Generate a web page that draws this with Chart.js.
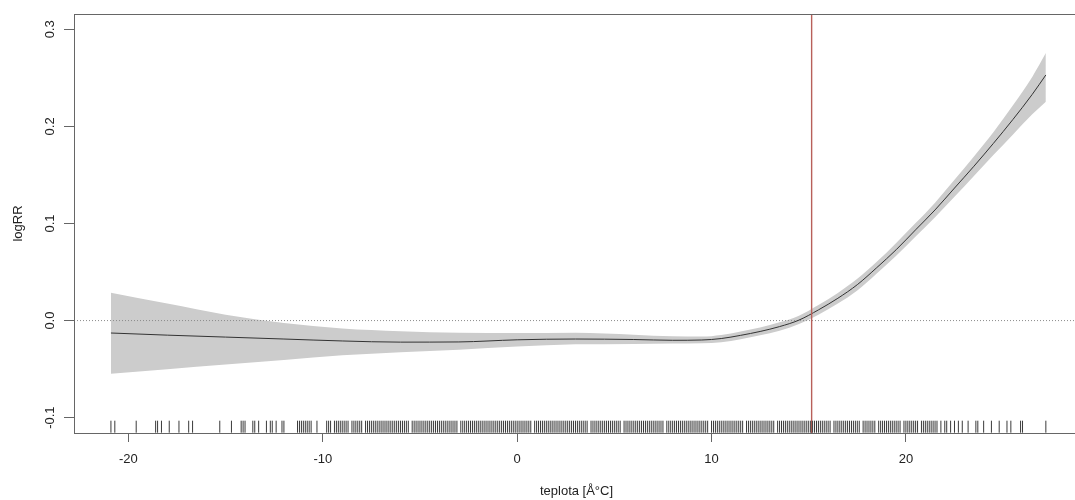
<!DOCTYPE html>
<html>
<head>
<meta charset="utf-8">
<script src="https://cdn.jsdelivr.net/npm/chart.js@4"></script>
<style>
  html, body { margin: 0; padding: 0; background: #fff; }
  canvas { display: block; }
</style>
</head>
<body>
<canvas id="rrChart" width="1075" height="500"></canvas>
<script>
// exposure-response curve (temperature vs logRR)
const temps = [-20.9, -18, -15, -12, -9, -6, -3, 0, 3, 6, 8, 9.5, 10.5, 11.5, 12.5, 13.5, 14.5, 15.5, 16.5, 17.5, 18.5, 19.5, 20.5, 21.5, 22.5, 23.5, 24.5, 25.5, 26.5, 27.2];
const fitRR = [-0.0128, -0.015, -0.017, -0.019, -0.021, -0.0222, -0.022, -0.0198, -0.019, -0.0195, -0.0203, -0.020, -0.0185, -0.0152, -0.0112, -0.0062, 0.0005, 0.011, 0.023, 0.037, 0.0545, 0.073, 0.0935, 0.114, 0.1365, 0.159, 0.1825, 0.207, 0.233, 0.253];
const upperRR = [0.0287, 0.0175, 0.006, -0.0025, -0.0082, -0.011, -0.0125, -0.0128, -0.0125, -0.0145, -0.0162, -0.0165, -0.0148, -0.0112, -0.0072, -0.0018, 0.005, 0.016, 0.0285, 0.043, 0.0605, 0.080, 0.1005, 0.1215, 0.145, 0.169, 0.194, 0.2215, 0.251, 0.2755];
const lowerRR = [-0.0547, -0.0501, -0.0453, -0.0406, -0.0358, -0.0325, -0.030, -0.0268, -0.0245, -0.024, -0.0235, -0.0233, -0.0222, -0.0192, -0.0152, -0.0104, -0.0035, 0.006, 0.0175, 0.031, 0.0485, 0.0668, 0.0865, 0.1065, 0.1275, 0.149, 0.1705, 0.1915, 0.2125, 0.2255];

// observed temperatures (rug)
const rugTemps = [
  -20.9, -20.7, -19.6, -18.6, -18.5, -18.3, -17.9, -17.4, -16.9, -16.7, -15.3, -14.7, -14.2, -14.1, -14.0,
  -13.6, -13.5, -13.3, -12.9, -12.7, -12.6, -12.4, -12.1, -12.0, -11.3, -11.2, -11.1, -11.0, -10.9, -10.8,
  -10.7, -10.6, -10.3,
  -9.8, -9.7, -9.6, -9.4, -9.3, -9.2, -9.1, -9.0,
  -8.9, -8.8, -8.7, -8.5, -8.4, -8.3, -8.2, -8.1, -8.0,
  -7.8, -7.7, -7.6, -7.5, -7.4, -7.3, -7.2, -7.1, -7.0,
  -6.9, -6.8, -6.7, -6.6, -6.5, -6.4, -6.3, -6.2, -6.1, -6.0,
  -5.9, -5.8, -5.7, -5.6, -5.4, -5.3, -5.2, -5.1, -5.0,
  -4.9, -4.8, -4.7, -4.6, -4.5, -4.4, -4.3, -4.2, -4.1, -4.0,
  -3.9, -3.8, -3.7, -3.6, -3.5, -3.4, -3.3, -3.2, -3.1,
  -2.9, -2.8, -2.7, -2.6, -2.5, -2.4, -2.3, -2.2, -2.1, -2.0,
  -1.9, -1.8, -1.7, -1.6, -1.5, -1.4, -1.3, -1.2, -1.1, -1.0,
  -0.9, -0.8, -0.7, -0.6, -0.5, -0.4, -0.3, -0.2, -0.1, 0.0,
  0.1, 0.2, 0.3, 0.4, 0.5, 0.6, 0.7, 0.9, 1.0,
  1.1, 1.2, 1.3, 1.4, 1.5, 1.6, 1.7, 1.8, 1.9, 2.0,
  2.1, 2.2, 2.3, 2.4, 2.5, 2.6, 2.7, 2.8, 2.9, 3.0,
  3.1, 3.2, 3.3, 3.4, 3.5, 3.6, 3.8, 3.9, 4.0,
  4.1, 4.2, 4.3, 4.4, 4.5, 4.6, 4.7, 4.8, 4.9, 5.0,
  5.1, 5.2, 5.3, 5.5, 5.6, 5.7, 5.8, 5.9, 6.0,
  6.1, 6.2, 6.3, 6.4, 6.5, 6.6, 6.7, 6.8, 6.9, 7.0,
  7.1, 7.2, 7.3, 7.4, 7.5, 7.7, 7.8, 7.9, 8.0,
  8.1, 8.2, 8.3, 8.4, 8.5, 8.6, 8.7, 8.8, 8.9, 9.0,
  9.1, 9.2, 9.3, 9.4, 9.5, 9.6, 9.7, 9.8, 10.0,
  10.1, 10.2, 10.3, 10.4, 10.5, 10.6, 10.7, 10.8, 10.9, 11.0,
  11.1, 11.2, 11.3, 11.4, 11.5, 11.6, 11.8, 11.9, 12.0,
  12.1, 12.2, 12.3, 12.4, 12.5, 12.6, 12.7, 12.8, 12.9, 13.0,
  13.1, 13.2, 13.4, 13.5, 13.6, 13.7, 13.8, 13.9, 14.0,
  14.1, 14.2, 14.3, 14.4, 14.5, 14.6, 14.7, 14.8, 14.9, 15.0,
  15.1, 15.2, 15.3, 15.4, 15.5, 15.6, 15.7, 15.8, 15.9, 16.0,
  16.1, 16.3, 16.4, 16.5, 16.6, 16.7, 16.8, 16.9, 17.0,
  17.1, 17.2, 17.3, 17.4, 17.5, 17.6, 17.8, 17.9, 18.0,
  18.1, 18.2, 18.3, 18.4, 18.6, 18.7, 18.8, 18.9, 19.0,
  19.1, 19.2, 19.3, 19.4, 19.5, 19.6, 19.7, 19.9, 20.0,
  20.1, 20.2, 20.3, 20.4, 20.5, 20.6, 20.8, 20.9, 21.0,
  21.1, 21.2, 21.3, 21.4, 21.5, 21.6,
  21.8, 22.0, 22.1, 22.3, 22.5, 22.7, 22.9, 23.2, 23.6, 23.7, 24.0, 24.4, 24.8, 25.2, 25.4, 25.9, 26.0, 27.2
];

const refTemp = 15.15;
const xTicks = [-20, -10, 0, 10, 20];
const yTicks = [-0.1, 0, 0.1, 0.2, 0.3];
const yTickLabels = ['-0.1', '0.0', '0.1', '0.2', '0.3'];
const xRange = [-22.8, 28.7];
const yRange = [-0.1158, 0.3158];
const rugY = -0.1093;

const FONT = '"Liberation Sans", Arial, sans-serif';
const toPoints = vals => temps.map((t, i) => ({ x: t, y: vals[i] }));

// box around the plot, rotated y labels and the axis titles (R look)
const rStyle = {
    id: 'rStyle',
    afterDraw(chart) {
        const { ctx, chartArea: a, scales: { y } } = chart;
        ctx.save();
        ctx.strokeStyle = '#666';
        ctx.lineWidth = 1;
        ctx.strokeRect(a.left + 0.5, a.top + 0.5, a.right - a.left, a.bottom - a.top);

        ctx.fillStyle = '#222';
        ctx.font = '13px ' + FONT;
        ctx.textAlign = 'center';
        ctx.textBaseline = 'middle';
        yTicks.forEach((v, i) => {
            ctx.save();
            ctx.translate(50, y.getPixelForValue(v));
            ctx.rotate(-Math.PI / 2);
            ctx.fillText(yTickLabels[i], 0, 0);
            ctx.restore();
        });

        ctx.save();
        ctx.translate(18, (a.top + a.bottom) / 2);
        ctx.rotate(-Math.PI / 2);
        ctx.fillText('logRR', 0, 0);
        ctx.restore();

        ctx.fillText('teplota [Å°C]', (a.left + a.right) / 2 + 2, 491);
        ctx.restore();
    }
};

new Chart(document.getElementById('rrChart').getContext('2d'), {
    type: 'line',
    data: {
        datasets: [
            {
                type: 'scatter',
                data: rugTemps.map(t => ({ x: t, y: rugY })),
                pointStyle: 'line',
                pointRotation: 90,
                pointRadius: 6,
                pointHoverRadius: 6,
                pointBorderColor: '#3a3a3a',
                pointBorderWidth: 1,
                order: 1
            },
            {
                data: [{ x: refTemp, y: yRange[0] }, { x: refTemp, y: yRange[1] }],
                borderColor: '#b8605a',
                borderWidth: 1.4,
                pointRadius: 0,
                order: 2
            },
            {
                data: toPoints(fitRR),
                borderColor: '#333',
                borderWidth: 1,
                pointRadius: 0,
                cubicInterpolationMode: 'monotone',
                order: 3
            },
            {
                data: [{ x: xRange[0], y: 0 }, { x: xRange[1], y: 0 }],
                borderColor: '#8a8a8a',
                borderWidth: 1,
                borderDash: [1, 2],
                pointRadius: 0,
                order: 4
            },
            {
                data: toPoints(upperRR),
                borderWidth: 0,
                borderColor: 'rgba(0,0,0,0)',
                backgroundColor: '#cccccc',
                fill: '+1',
                pointRadius: 0,
                cubicInterpolationMode: 'monotone',
                order: 10
            },
            {
                data: toPoints(lowerRR),
                borderWidth: 0,
                borderColor: 'rgba(0,0,0,0)',
                pointRadius: 0,
                cubicInterpolationMode: 'monotone',
                order: 11
            }
        ]
    },
    options: {
        responsive: false,
        animation: false,
        events: [],
        layout: { autoPadding: false, padding: { top: 14, right: 0, bottom: 0, left: 0 } },
        plugins: { legend: { display: false }, tooltip: { enabled: false } },
        scales: {
            x: {
                type: 'linear',
                min: xRange[0],
                max: xRange[1],
                afterBuildTicks: s => { s.ticks = xTicks.map(v => ({ value: v })); },
                afterFit: s => { s.height = 67; s.paddingLeft = 0; s.paddingRight = 0; },
                border: { display: false },
                grid: { drawOnChartArea: false, tickLength: 9, color: '#666' },
                ticks: {
                    padding: 10,
                    color: '#222',
                    autoSkip: false,
                    maxRotation: 0,
                    font: { size: 13, family: FONT },
                    callback: v => String(v)
                }
            },
            y: {
                type: 'linear',
                min: yRange[0],
                max: yRange[1],
                afterBuildTicks: s => { s.ticks = yTicks.map(v => ({ value: v })); },
                afterFit: s => { s.width = 74; s.paddingTop = 0; s.paddingBottom = 0; },
                border: { display: false },
                grid: { drawOnChartArea: false, tickLength: 10, color: '#666' },
                ticks: { display: false }
            }
        }
    },
    plugins: [rStyle]
});
</script>
</body>
</html>
